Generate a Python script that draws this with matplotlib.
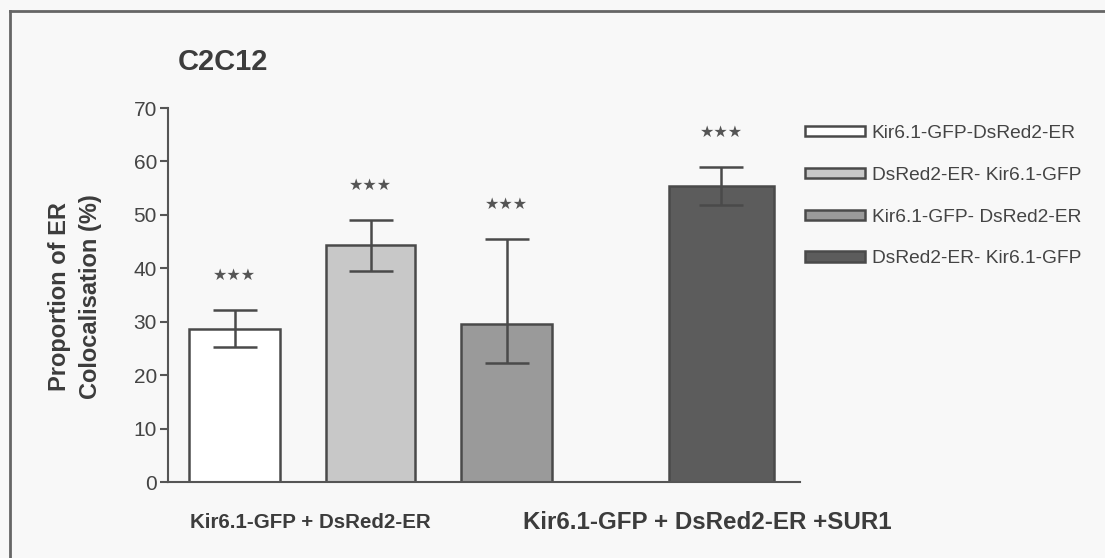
import matplotlib
matplotlib.use("Agg")
import matplotlib.pyplot as plt
from matplotlib.lines import Line2D
from matplotlib.patches import Patch

# ---- data ----
series_labels = ["Kir6.1-GFP-DsRed2-ER", "DsRed2-ER- Kir6.1-GFP",
                 "Kir6.1-GFP- DsRed2-ER", "DsRed2-ER- Kir6.1-GFP"]
means = [28.7, 44.4, 29.5, 55.4]
err_upper = [3.4, 4.6, 15.9, 3.5]
err_lower = [3.4, 5.0, 7.2, 3.5]
significance = ["★★★", "★★★", "★★★", "★★★"]
group_labels = ["Kir6.1-GFP + DsRed2-ER", "Kir6.1-GFP + DsRed2-ER +SUR1"]
yticks = [0, 10, 20, 30, 40, 50, 60, 70]
title = "C2C12"
ylabel = "Proportion of ER\nColocalisation (%)"

# ---- style ----
bar_colors = ["#ffffff", "#c8c8c8", "#9a9a9a", "#5c5c5c"]
edge = "#4a4a4a"
txt = "#3c3c3c"
positions = [0.0, 1.0, 2.0, 3.58]
widths = [0.67, 0.655, 0.67, 0.77]
group_pos = [0.56, 3.48]
group_sizes = [14.8, 17.4]
FONT = "Liberation Sans"

fig = plt.figure(figsize=(11.05, 5.58), dpi=100)
fig.patch.set_facecolor("#f8f8f8")
W, H = 1105, 558
ax = fig.add_axes([168 / W, (H - 482) / H, (800 - 168) / W, (482 - 108) / H])
ax.set_facecolor("none")

for i in range(len(means)):
    ax.bar(positions[i], means[i], width=widths[i], color=bar_colors[i],
           edgecolor=edge, linewidth=1.8, label=series_labels[i], zorder=2)
    ax.errorbar(positions[i], means[i],
                yerr=[[err_lower[i]], [err_upper[i]]],
                fmt="none", ecolor=edge, elinewidth=1.8, capsize=16,
                capthick=1.8, zorder=3)
    ax.text(positions[i], means[i] + err_upper[i] + 6.6, significance[i],
            ha="center", va="center", fontsize=11.5, color="#555555",
            family="DejaVu Sans")

ax.set_xlim(-0.489, 4.158)
ax.set_ylim(0, 70)
ax.set_yticks(yticks)
ax.set_xticks([])
ax.spines["top"].set_visible(False)
ax.spines["right"].set_visible(False)
for s in ("left", "bottom"):
    ax.spines[s].set_color("#555555")
    ax.spines[s].set_linewidth(1.5)
ax.tick_params(axis="y", direction="out", length=6, width=1.5,
               color="#555555", labelsize=15, labelcolor="#444444", pad=2)
for lab in ax.get_yticklabels():
    lab.set_family(FONT)

for gp, gl, gs in zip(group_pos, group_labels, group_sizes):
    ax.text(gp, -7.6, gl, ha="center", va="center", fontsize=gs,
            fontweight="bold", color=txt, family=FONT)

fig.text(223 / W, 1 - 62 / H, title, ha="center", va="center", fontsize=21,
         fontweight="bold", color=txt, family=FONT)
fig.text(75 / W, 1 - 297 / H, ylabel, ha="center", va="center", rotation=90,
         fontsize=17, fontweight="bold", color=txt, family=FONT,
         linespacing=1.45, multialignment="center")

handles = [Patch(facecolor=bar_colors[i], edgecolor=edge, linewidth=1.8)
           for i in range(len(means))]
leg = ax.legend(handles, series_labels, loc="upper left",
                bbox_to_anchor=(797 / W, 1 - 117 / H),
                bbox_transform=fig.transFigure, frameon=False,
                prop={"family": FONT, "size": 13.8}, handlelength=3.15,
                handleheight=0.45, handletextpad=0.35, labelspacing=1.3,
                borderaxespad=0)
for t in leg.get_texts():
    t.set_color("#444444")

# frame lines (top and left)
fig.add_artist(Line2D([10 / W, 1.0], [1 - 11 / H, 1 - 11 / H],
                      transform=fig.transFigure, color="#666666", lw=2))
fig.add_artist(Line2D([10 / W, 10 / W], [1 - 11 / H, 0.0],
                      transform=fig.transFigure, color="#666666", lw=2))

fig.savefig("out.png", dpi=100, facecolor=fig.get_facecolor())
